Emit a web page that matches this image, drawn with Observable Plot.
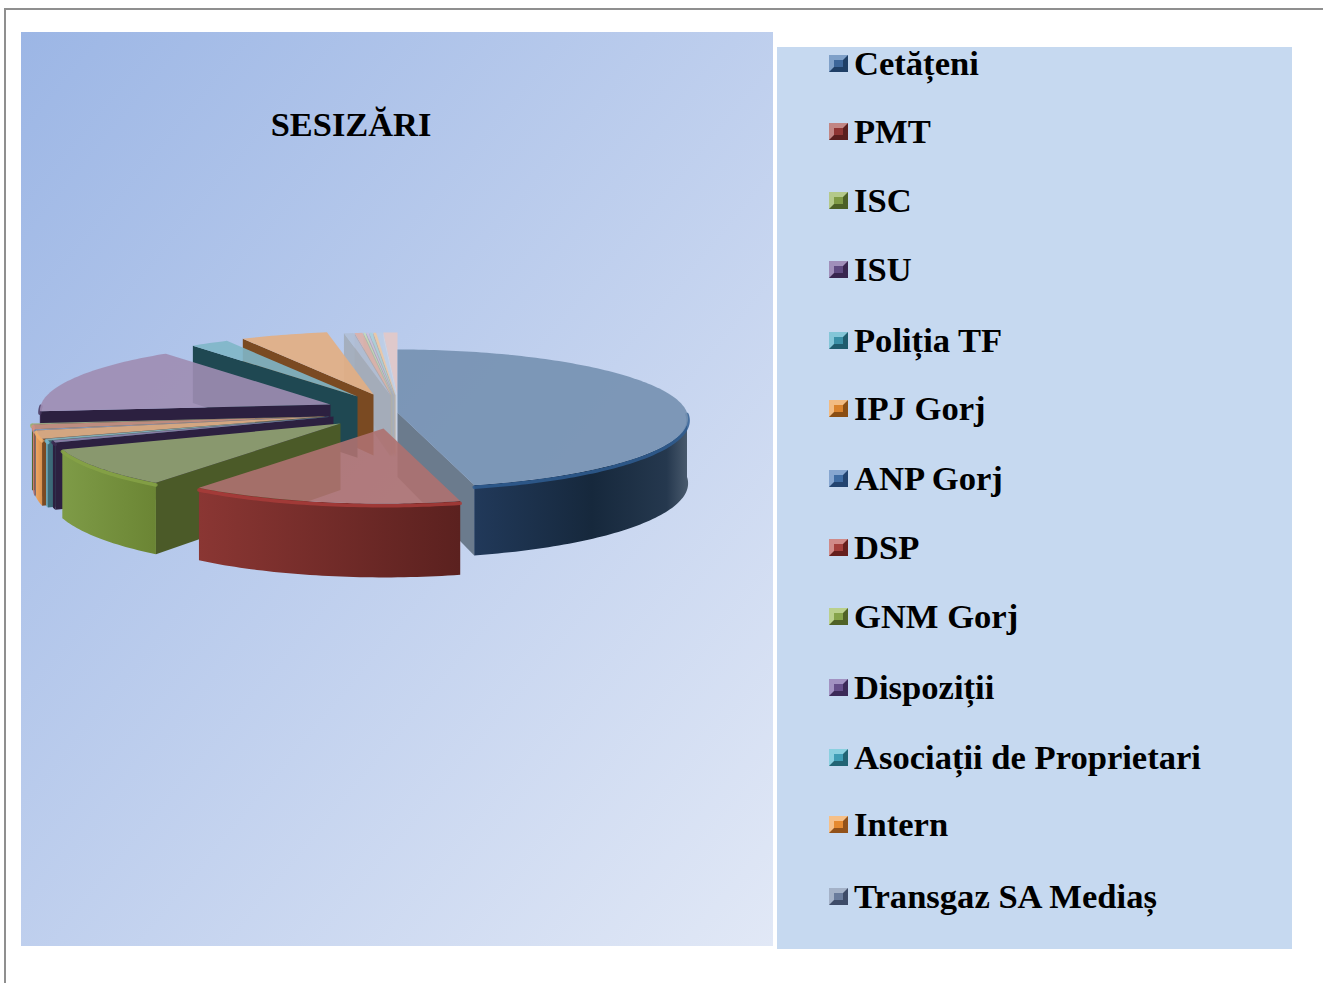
<!DOCTYPE html>
<html lang="ro">
<head>
<meta charset="utf-8">
<title>SESIZĂRI</title>
<script src="https://cdn.jsdelivr.net/npm/d3@7"></script>
<script src="https://cdn.jsdelivr.net/npm/@observablehq/plot@0.6"></script>
<style>
html,body{margin:0;padding:0;background:#fff;width:1323px;height:983px;overflow:hidden}
.frame{position:absolute;left:4px;top:8px;right:0;bottom:0;border-top:2px solid #8f8f8f;border-left:2px solid #8f8f8f}
.panelL{position:absolute;left:21px;top:32px;width:752px;height:914px;background:linear-gradient(to bottom right,#9cb6e5,#e1e8f6)}
.panelR{position:absolute;left:777px;top:47px;width:515px;height:902px;background:#c6d9f0}
#plot{position:absolute;left:0;top:0}
.title{position:absolute;left:251px;top:103px;width:200px;text-align:center;font:bold 34.4px "Liberation Serif",serif;color:#000;white-space:nowrap;line-height:42px}
.legend div.item{position:absolute;left:829px;height:40px;display:flex;align-items:center;font:bold 34.6px "Liberation Serif",serif;color:#000;white-space:nowrap}
.sw{box-sizing:border-box;width:19px;height:17px;margin-right:6px;border-style:solid;border-width:5px 5px 5px 5px;flex:none}
</style>
</head>
<body>
<div class="frame"></div>
<div class="panelL"></div>
<div class="panelR"></div>
<div id="plot"></div>
<div class="title">SESIZĂRI</div>
<div class="legend" id="legend"></div>
<script>
// ---------- data ----------
const categories = ["Cetățeni","PMT","ISC","ISU","Poliția TF","IPJ Gorj","ANP Gorj","DSP","GNM Gorj","Dispoziții","Asociații de Proprietari","Intern","Transgaz SA Mediaș"];
const values = [46.1,14,8.92,0.47,0.39,1.9,0.28,1.11,0.28,16.15,2.33,5.28,0.58];
// small slices drawn in the chart whose names the legend does not show
const extraCategories = ["s14","s15","s16","s17","s18","s19","s20"];
const extraValues = [0.47,0.11,0.125,0.18,0.167,0.31,0.85];

// ---------- appearance ----------
const topColors  = ["#7490b0","#ae7170","#93a573","#8f7fa8","#7fb6c8","#e3ae82","#86a0c0","#c99088","#a0b088","#9e8db3","#7fb6c8","#e3ae82","#b0bfd6","#dcb0aa","#c8dcb4","#ccbfdc","#a8d0dc","#f0c8a0","#bccde6","#e3c9c8"];
const rimFrom    = ["#21395a","#8a3633","#7e9b47","#2c2040","#6fb0c4","#eda562","#5a7a9a","#cf8078","#8aa056","#3a2a50","#22505c","#80501f","#a5aebc","#b5a8b0","#b5c0a8","#aaa8c0","#a8b8c0","#c0b0a0","#b0bac8","#c4ccd8"];
const rimTo      = ["#4a5b6e","#5b211f","#6b8534","#2c2040","#5a98ac","#d8924f","#4a6a8a","#b87068","#7a9048","#3a2a50","#22505c","#80501f","#a5aebc","#b5a8b0","#b5c0a8","#aaa8c0","#a8b8c0","#c0b0a0","#b0bac8","#c4ccd8"];
const faceColors = ["#6b7b8d","#6a2825","#4b5a28","#2c2040","#3c6a78","#7a4a22","#3f5a7a","#8a4a45","#55682c","#2c2040","#1f4852","#7a4a22","#a3acba","#b0a6ae","#aeb8a8","#a8a6ba","#a6b4bc","#bcaea2","#c4ccd8","#cfd7e4"];
const glowColors = ["#2f5d92","#a83c39","#86a246","#3c2c52","#78b8cc","#f0b070","#6a8aaa","#d89088","#98b060","#4a3a62","#2a6270","#94602c","#b0b8c4","#c0b4ba","#c0c8b4","#b8b4c8","#b4c0c8","#c8baac","#c0c8d4","#d0d8e0"];
const explodeX = [25,11,-32,-39,-44,-48,-48,-49,-50,-42,-15,1,18,19,20,21,22,23,24,25];
const explodeY = [2,18,13,6,6,6,6,6,6,-6,-14,-16,-15,-15,-15,-15,-15,-15,-15,-15];
const paintOrder = [19,18,17,16,15,14,13,12,11,10,9,8,7,6,5,4,3,2,0,1];
const legendY = [63,131,200,269,340,408,478,547,616,687,757,824,896];
const legendTop = ["#3d6699","#8f3533","#7f9a45","#5f4a80","#3a8fa6","#d9822c","#3f6ca3","#a33f3c","#86a34a","#664f8a","#3f9db5","#e58a30","#6a7c9c"];
const legendLight = ["#7fa0c8","#c28684","#b4c98a","#a08fba","#84c6d8","#f2bb82","#86a6d0","#d08a88","#bad08c","#a292c2","#8ad0e0","#f6c088","#a4b2c8"];
const legendDark = ["#1f3f66","#5a1f1e","#4c6026","#38264f","#1f5c6e","#8a4e14","#234470","#661f1d","#506226","#3c2a58","#226474","#92521a","#3e4c68"];

// ---------- geometry (pie model -> chart coordinates) ----------
const cx = 372, cy = 410, R = 289.5, Rq = 68.5, persp = 0.087, depth = 64;
const all = values.concat(extraValues);
const arcs = d3.pie().sort(null).value(d => d).startAngle(0).endAngle(2 * Math.PI)(all);
function pt(i, a, r, drop) {
  const ax = cx + explodeX[i], ay = cy + explodeY[i];
  const u = r * Math.sin(a), v = -r * Math.cos(a), s = 1 / (1 - persp * v);
  return {x: ax + R * u * s, y: ay + Rq * v * s + drop * depth * s * (1 + (ay - 410) * 0.003)};
}
function arcPts(i, a0, a1, drop) {
  const n = Math.max(2, Math.ceil(Math.abs(a1 - a0) / 0.02));
  return d3.range(n + 1).map(k => pt(i, a0 + (a1 - a0) * k / n, 1, drop));
}
const poly = (pts, fill, extra = {}) => Plot.line(pts, {x: "x", y: "y", fill, stroke: "none", curve: "linear-closed", ...extra});

const marks = [];
let defs = "";
all.forEach((_, i) => {
  defs += `<linearGradient id="rim${i}" x1="0" x2="1" y1="0" y2="0"><stop offset="0" stop-color="${rimFrom[i]}"/>` +
    (i === 0 ? `<stop offset="0.55" stop-color="#16283c"/><stop offset="0.9" stop-color="#25384e"/>` : "") +
    `<stop offset="1" stop-color="${rimTo[i]}"/></linearGradient>`;
});
marks.push(() => d3.create("svg:defs").html(defs).node());

paintOrder.forEach(i => {
  const {startAngle: a, endAngle: b} = arcs[i];
  const apex = pt(i, 0, 0, 0), apexB = pt(i, 0, 0, 1);
  const face = ang => poly([apex, pt(i, ang, 1, 0), pt(i, ang, 1, 1), apexB], faceColors[i], i >= 12 ? {fillOpacity: 0.92} : {});
  if (Math.sin(b) > 0 && i < 12) marks.push(face(b));
  if (Math.sin(a) < 0) marks.push(face(a));
  // outer wall: only the part turned to the viewer
  const r0 = Math.max(a, Math.PI / 2), r1 = Math.min(b, 3 * Math.PI / 2);
  if (r1 > r0) {
    marks.push(poly(arcPts(i, r0, r1, 0).concat(arcPts(i, r1, r0, 1)), `url(#rim${i})`));
    marks.push(Plot.line(arcPts(i, r0, r1, 0.03), {x: "x", y: "y", stroke: glowColors[i], strokeWidth: 3.5, strokeOpacity: 0.85, curve: "linear"}));
  }
  // lightly translucent top
  marks.push(poly([apex].concat(arcPts(i, a, b, 0)), topColors[i], {fillOpacity: 0.9}));
});

const chart = Plot.plot({
  width: 1323, height: 983, margin: 0,
  x: {domain: [0, 1323], range: [0, 1323], axis: null},
  y: {domain: [0, 983], range: [0, 983], axis: null},
  style: {background: "transparent"},
  marks
});
document.getElementById("plot").append(chart);

const lg = document.getElementById("legend");
categories.forEach((c, i) => {
  const d = document.createElement("div");
  d.className = "item";
  d.style.top = (legendY[i] - 20) + "px";
  const s = document.createElement("span");
  s.className = "sw";
  s.style.background = legendTop[i];
  s.style.borderColor = `${legendLight[i]} ${legendDark[i]} ${legendDark[i]} ${legendLight[i]}`;
  d.append(s, c);
  lg.append(d);
});
</script>
</body>
</html>
